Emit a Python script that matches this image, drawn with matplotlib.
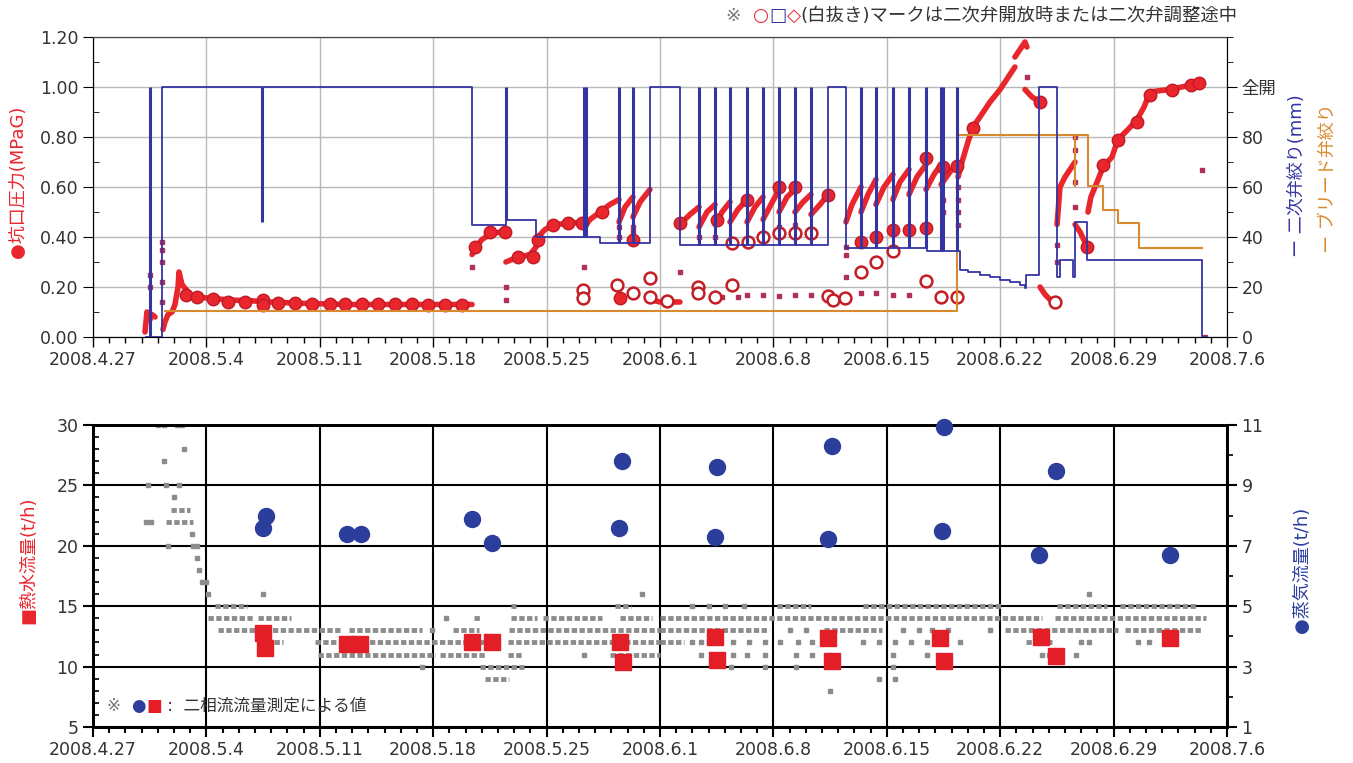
import numpy as np
import matplotlib
matplotlib.use('Agg')
import matplotlib.pyplot as plt
from matplotlib.ticker import MultipleLocator
from matplotlib.offsetbox import TextArea, HPacker, AnchoredOffsetbox

plt.rcParams['font.family'] = ['DejaVu Sans', 'Noto Sans CJK JP']

# x axis: days since 2008.4.27
DATE_LABELS = ['2008.4.27', '2008.5.4', '2008.5.11', '2008.5.18', '2008.5.25', '2008.6.1',
               '2008.6.8', '2008.6.15', '2008.6.22', '2008.6.29', '2008.7.6']

# ---- top panel: wellhead pressure (MPaG), dense trace segments (day, value)
press_segments = [
    [(3.21, 0.02), (3.33, 0.10), (3.52, 0.07), (3.64, 0.09), (3.83, 0.08)],
    [(4.32, 0.03), (4.44, 0.06), (4.63, 0.09), (4.88, 0.10), (5.06, 0.13), (5.25, 0.20), (5.31, 0.26),
     (5.49, 0.21), (5.74, 0.19), (5.99, 0.17), (6.36, 0.16), (7.22, 0.155), (8.46, 0.148), (9.69, 0.145),
     (10.93, 0.14), (12.78, 0.135), (15.86, 0.13), (18.95, 0.13), (23.40, 0.13)],
    [(23.40, 0.33), (23.64, 0.36), (24.01, 0.39), (24.51, 0.41), (25.12, 0.42), (25.49, 0.42)],
    [(25.49, 0.30), (25.86, 0.31), (26.36, 0.32), (26.98, 0.33), (27.35, 0.36), (27.47, 0.40),
     (27.90, 0.43), (28.52, 0.45), (29.44, 0.455), (30.25, 0.46)],
    [(30.31, 0.44), (30.68, 0.47), (31.30, 0.50), (31.91, 0.53), (32.47, 0.55)],
    [(32.47, 0.46), (32.84, 0.52), (33.33, 0.56)],
    [(33.33, 0.48), (33.77, 0.54), (34.38, 0.59)],
    [(34.38, 0.15), (35.00, 0.14), (35.74, 0.14), (36.23, 0.14)],
    [(36.23, 0.45), (36.85, 0.49), (37.41, 0.52)],
    [(37.41, 0.44), (37.90, 0.50), (38.40, 0.53)],
    [(38.40, 0.45), (38.83, 0.50), (39.32, 0.54)],
    [(39.32, 0.46), (39.81, 0.51), (40.37, 0.55)],
    [(40.37, 0.46), (40.86, 0.52), (41.36, 0.56)],
    [(41.36, 0.47), (41.85, 0.53), (42.35, 0.59)],
    [(42.35, 0.50), (42.84, 0.56), (43.33, 0.59)],
    [(43.33, 0.50), (43.83, 0.54), (44.32, 0.57)],
    [(44.32, 0.49), (44.88, 0.53), (45.37, 0.57)],
    [(46.48, 0.46), (46.85, 0.53), (47.41, 0.60)],
    [(47.41, 0.50), (47.84, 0.57), (48.33, 0.63)],
    [(48.33, 0.53), (48.83, 0.60), (49.38, 0.65)],
    [(49.38, 0.55), (49.81, 0.62), (50.37, 0.67)],
    [(50.37, 0.57), (50.86, 0.64), (51.42, 0.69)],
    [(51.42, 0.59), (51.91, 0.65), (52.35, 0.69)],
    [(52.35, 0.61), (52.90, 0.66), (53.33, 0.69)],
    [(53.40, 0.64), (53.64, 0.70), (54.01, 0.78), (54.32, 0.84), (54.75, 0.88), (55.37, 0.94),
     (55.99, 0.99), (56.60, 1.05), (56.91, 1.08)],
    [(56.91, 1.12), (57.22, 1.15), (57.53, 1.18), (57.65, 1.16)],
    [(57.53, 0.99), (57.96, 0.96), (58.46, 0.94)],
    [(58.46, 0.20), (58.77, 0.17), (59.07, 0.15), (59.38, 0.14)],
    [(59.51, 0.45), (59.69, 0.60), (60.00, 0.64), (60.31, 0.67), (60.62, 0.70)],
    [(60.62, 0.45), (60.93, 0.42), (61.23, 0.38), (61.42, 0.36)],
    [(61.42, 0.50), (61.60, 0.56), (61.98, 0.62), (62.35, 0.68), (62.90, 0.72), (63.27, 0.79),
     (63.89, 0.83), (64.45, 0.87), (64.88, 0.92), (65.25, 0.98), (65.80, 0.985), (66.50, 0.99),
     (67.20, 1.00), (67.90, 1.01), (68.46, 1.015)],
]

press_filled_day = [5.74, 6.42, 7.41, 8.33, 9.38, 10.49, 10.49, 11.42, 12.47, 13.52, 14.63, 15.56, 16.60,
                    17.59, 18.64, 19.69, 20.68, 21.73, 22.78, 23.58, 24.51, 25.43, 26.23, 27.16, 27.47,
                    28.40, 29.32, 30.19, 31.42, 33.33, 32.53, 36.23, 38.52, 40.37, 42.35, 43.33, 45.37,
                    47.41, 48.33, 49.38, 50.37, 51.42, 51.42, 52.47, 53.33, 54.32, 58.46, 61.36, 62.35,
                    63.27, 64.45, 65.25, 66.60, 67.80, 68.30]
press_filled_val = [0.17, 0.16, 0.152, 0.14, 0.14, 0.148, 0.13, 0.135, 0.135, 0.133, 0.133, 0.133, 0.132,
                    0.132, 0.131, 0.131, 0.13, 0.13, 0.13, 0.36, 0.42, 0.42, 0.32, 0.32, 0.39,
                    0.45, 0.455, 0.455, 0.50, 0.39, 0.156, 0.456, 0.47, 0.55, 0.60, 0.60, 0.57,
                    0.38, 0.40, 0.43, 0.43, 0.436, 0.716, 0.68, 0.684, 0.836, 0.94, 0.36, 0.69,
                    0.79, 0.86, 0.97, 0.99, 1.01, 1.015]

press_open_day = [30.25, 30.25, 32.35, 33.33, 34.38, 34.38, 35.43, 37.35, 37.35, 38.40, 39.44, 39.44,
                  40.43, 41.36, 42.35, 43.33, 44.32, 45.37, 45.68, 46.42, 47.41, 48.33, 49.38, 51.42,
                  52.35, 53.33, 59.38]
press_open_val = [0.19, 0.156, 0.21, 0.175, 0.235, 0.16, 0.144, 0.20, 0.176, 0.16, 0.21, 0.376,
                  0.38, 0.40, 0.416, 0.416, 0.416, 0.164, 0.148, 0.156, 0.26, 0.30, 0.344, 0.224,
                  0.16, 0.16, 0.14]

press_dot_day = [3.52, 3.52, 4.26, 4.26, 4.26, 4.26, 4.26, 23.40, 25.49, 25.49, 30.31, 32.47, 32.47,
                 33.33, 33.33, 36.23, 37.41, 38.40, 41.36, 42.35, 43.33, 38.83, 39.81, 40.37, 41.36,
                 42.35, 43.33, 44.32, 47.41, 48.33, 49.38, 50.37, 46.48, 46.48, 46.48, 53.40, 53.40,
                 53.40, 53.40, 52.47, 52.47, 57.65, 60.62, 60.62, 60.62, 60.62, 59.51, 59.51, 68.46, 68.64]
press_dot_val = [0.25, 0.20, 0.38, 0.35, 0.30, 0.22, 0.14, 0.28, 0.15, 0.20, 0.28, 0.40, 0.44,
                 0.44, 0.42, 0.26, 0.40, 0.40, 0.40, 0.44, 0.45, 0.16, 0.16, 0.17, 0.17,
                 0.165, 0.17, 0.17, 0.175, 0.175, 0.17, 0.17, 0.36, 0.33, 0.24, 0.60, 0.55,
                 0.50, 0.45, 0.55, 0.50, 1.04, 0.80, 0.75, 0.62, 0.52, 0.37, 0.30, 0.67, 0.0]

# secondary valve opening (mm), step levels starting at each day
valve_day = [3.3, 4.26, 23.40, 25.49, 27.35, 31.30, 34.38, 36.23, 45.37, 46.48, 51.48, 53.52, 54.01,
             54.75, 55.37, 55.99, 56.60, 57.22, 57.53, 57.59, 58.40, 59.51, 59.69, 60.49, 60.62,
             61.36, 68.46, 68.7]
valve_mm = [0, 100, 45, 47, 40, 37.6, 100, 37, 100, 35.6, 34.4, 27, 26,
            25, 24, 23, 22, 21, 19.6, 25, 100, 24, 31, 24, 46,
            31, 0, 0]
valve_open_spikes = [3.52, 25.49, 30.31, 30.45, 32.47, 33.33, 37.41, 38.40, 39.32, 40.37, 41.36,
                     42.35, 43.33, 44.32, 47.41, 48.33, 49.38, 50.37, 51.42, 52.35, 52.47, 53.33]
valve_dip_day = [10.43]
valve_dip_mm = [46]

# bleed valve opening, step levels
bleed_day = [4.44, 53.33, 61.42, 62.35, 63.27, 64.57, 68.46]
bleed_mm = [10.4, 81, 60.4, 50.8, 45.6, 35.6, 35.6]
bleed_dip_day = [60.62]
bleed_dip_mm = [60]

# ---- bottom panel
water_day = [10.5, 10.6, 15.7, 16.5, 23.4, 24.6, 32.5, 32.7, 38.4, 38.5, 45.4, 45.6, 52.3, 52.5,
             58.5, 59.45, 66.5]
water_flow = [12.77, 11.56, 11.84, 11.84, 12.01, 12.07, 12.07, 10.34, 12.43, 10.53, 12.35, 10.45,
              12.35, 10.45, 12.43, 10.9, 12.4]
steam_day = [10.66, 10.48, 15.65, 16.54, 23.4, 24.65, 32.66, 32.46, 38.5, 38.4, 45.6, 45.4, 52.5,
             52.4, 59.45, 58.4, 66.5]
steam_flow = [7.99, 7.60, 7.40, 7.40, 7.90, 7.09, 9.80, 7.60, 9.60, 7.30, 10.31, 7.21, 10.92,
              7.50, 9.49, 6.69, 6.69]

# logged hot water flow: dense runs (value, from day, to day)
log_runs = [(14, 7.1, 9.9), (14, 10.2, 12.2), (13, 7.7, 15.3), (13, 15.8, 20.3), (13, 22.2, 23.8),
            (13, 25.7, 35.0), (12, 11.2, 11.7), (12, 13.7, 25.1), (12, 25.6, 35.0), (11, 13.9, 21.1),
            (11, 21.4, 24.2), (11, 25.6, 26.5), (11, 31.9, 35.0), (10, 23.9, 26.6), (9, 24.2, 25.7),
            (15, 25.8, 26.1), (15, 32.2, 33.2), (14, 23.5, 23.9), (14, 25.8, 27.4), (14, 27.8, 31.4),
            (14, 32.5, 34.5), (15, 42.2, 44.3), (15, 47.5, 56.1), (15, 59.5, 62.6), (15, 63.4, 68.1),
            (14, 35.0, 58.6), (14, 59.4, 68.7), (13, 35.0, 41.7), (13, 45.1, 48.7), (13, 56.3, 63.3),
            (13, 63.7, 68.4), (12, 35.0, 36.5), (12, 57.6, 59.2), (23, 4.8, 6.0), (22, 4.5, 6.2),
            (15, 7.5, 9.5)]
log_pt_day = [4.0, 4.4, 5.2, 5.5, 5.6, 4.4, 3.4, 4.5, 5.3, 5.0, 3.3, 3.6, 6.1, 4.6, 6.2, 6.45, 6.45,
              6.55, 6.7, 7.0, 7.1, 10.5, 37.0, 37.5, 38.0, 38.5, 39.5, 40.5, 41.5, 42.4, 43.5, 44.4,
              47.5, 48.5, 49.5, 50.5, 51.5, 52.5, 53.5, 61.0, 61.5, 64.5, 65.2, 37.5, 38.5, 39.5,
              40.4, 41.5, 43.4, 44.4, 45.5, 49.4, 51.5, 58.6, 59.0, 60.7, 39.4, 41.5, 43.4, 49.4,
              48.5, 49.5, 45.5, 61.5, 33.9, 20.3, 20.9, 21.8, 30.3, 37.0, 38.0, 39.0, 40.2, 50.0,
              51.0, 51.8, 52.8, 55.4, 43.0, 44.0]
log_pt_val = [30, 30, 30, 30, 28, 27, 25, 25, 25, 24, 22, 22, 21, 20, 20, 20, 19,
              18, 17, 17, 16, 16, 12, 12, 12, 12, 12, 12, 12, 12, 12, 12,
              12, 12, 12, 12, 12, 12, 12, 12, 12, 12, 12, 11, 11, 11,
              11, 11, 11, 11, 11, 11, 11, 11, 11, 11, 10, 10, 10, 10,
              9, 9, 8, 16, 16, 10, 13, 14, 11, 15, 15, 15, 15, 13,
              13, 13, 13, 13, 13, 13]

RED = '#e8262c'
DOT = '#b0305a'
BLUE = '#3434a4'
ORANGE = '#d98a2e'
GREY = '#8c8c8c'
TXT = '#333333'

fig = plt.figure(figsize=(13.53, 7.63), dpi=100)
W, H = 1353.0, 763.0
ax1 = fig.add_axes([93 / W, 1 - 337 / H, 1134 / W, 300 / H])
ax1r = ax1.twinx()
ax2 = fig.add_axes([93 / W, 1 - 727 / H, 1134 / W, 302 / H])
ax2r = ax2.twinx()


def style_x(ax):
    ax.set_xlim(0, 70)
    ax.set_xticks(range(0, 71, 7))
    ax.set_xticklabels(DATE_LABELS)
    ax.xaxis.set_minor_locator(MultipleLocator(1))
    ax.tick_params(axis='x', which='major', length=7, width=1, labelsize=12.5, labelcolor=TXT, pad=3)
    ax.tick_params(axis='x', which='minor', length=4, width=1)


# ---- top panel
style_x(ax1)
ax1.set_ylim(0, 1.2)
ax1.yaxis.set_major_locator(MultipleLocator(0.2))
ax1.yaxis.set_minor_locator(MultipleLocator(0.1))
ax1.yaxis.set_major_formatter(plt.FormatStrFormatter('%.2f'))
ax1.tick_params(axis='y', which='major', length=7, labelsize=12.5, labelcolor=TXT)
ax1.tick_params(axis='y', which='minor', length=4, direction='in')
ax1.grid(True, which='major', color='#b8b8b8', lw=1)
ax1.set_axisbelow(True)
for s in ax1.spines.values():
    s.set_color('#444444')

for seg in press_segments:
    xs, ys = zip(*seg)
    ax1.plot(xs, ys, color=RED, lw=4, solid_capstyle='round', zorder=3)
ax1.plot(press_dot_day, press_dot_val, 's', ms=3, color=DOT, zorder=3)
ax1.plot(press_filled_day, press_filled_val, 'o', ms=9, color=RED, mec='#c01a28', mew=1, zorder=4)
ax1.plot(press_open_day, press_open_val, 'o', ms=8.5, mfc='white', mec='#c41e24', mew=1.8, zorder=4)

ax1r.set_ylim(0, 120)
ax1r.set_yticks([0, 20, 40, 60, 80, 100])
ax1r.set_yticklabels(['0', '20', '40', '60', '80', '全開'])
ax1r.yaxis.set_minor_locator(MultipleLocator(10))
ax1r.tick_params(axis='y', which='major', length=7, labelsize=12.5, labelcolor=TXT)
ax1r.tick_params(axis='y', which='minor', length=4)
ax1r.spines['right'].set_color('black')
ax1r.spines['top'].set_color('#444444')

ax1r.step(bleed_day, bleed_mm, where='post', color=ORANGE, lw=1.5, zorder=2)
for d, m in zip(bleed_dip_day, bleed_dip_mm):
    ax1r.vlines(d, m, 81, color=ORANGE, lw=1.5)
ax1r.step(valve_day, valve_mm, where='post', color=BLUE, lw=1.3, zorder=3)
for d in valve_open_spikes:
    base = valve_mm[np.searchsorted(valve_day, d, side='right') - 1]
    ax1r.vlines(d, base, 100, color=BLUE, lw=2.2)
for d, m in zip(valve_dip_day, valve_dip_mm):
    ax1r.vlines(d, m, 100, color=BLUE, lw=2.2)

# ---- bottom panel
style_x(ax2)
ax2.set_ylim(5, 30)
ax2.yaxis.set_major_locator(MultipleLocator(5))
ax2.yaxis.set_minor_locator(MultipleLocator(1))
ax2.tick_params(axis='y', which='major', length=7, width=1.5, labelsize=12.5, labelcolor=TXT)
ax2.tick_params(axis='y', which='minor', length=4, direction='in', width=1.2)
ax2.tick_params(axis='x', which='both', width=1.5)
ax2.grid(True, which='major', color='black', lw=1.5)
ax2.set_axisbelow(True)
for s in ax2.spines.values():
    s.set_linewidth(2)

for v, d0, d1 in log_runs:
    ax2.hlines(v, d0, d1, colors=GREY, lw=3.5, linestyles=(0, (1.1, 0.5)), zorder=2)
ax2.plot(log_pt_day, log_pt_val, 's', ms=3.5, color=GREY, zorder=2)
ax2.plot(water_day, water_flow, 's', ms=11.5, color='#e41e26', zorder=4)

ax2r.set_ylim(1, 11)
ax2r.set_yticks([1, 3, 5, 7, 9, 11])
ax2r.yaxis.set_minor_locator(MultipleLocator(1))
ax2r.tick_params(axis='y', which='major', length=7, width=1.5, labelsize=12.5, labelcolor=TXT)
ax2r.tick_params(axis='y', which='minor', length=4, width=1.2)
for s in ax2r.spines.values():
    s.set_linewidth(2)
ax2r.plot(steam_day, steam_flow, 'o', ms=11.5, color='#2c3e9c', clip_on=False, zorder=4)

# ---- labels
fig.text(18 / W, 1 - 182 / H, '●坑口圧力(MPaG)', color=RED, rotation=90, size=13,
         ha='center', va='center')
fig.text(1297 / W, 1 - 176 / H, 'ー 二次弁絞り(mm)', color=BLUE, rotation=90, size=13,
         ha='center', va='center')
fig.text(1328 / W, 1 - 178 / H, 'ー ブリード弁絞り', color=ORANGE, rotation=90, size=13,
         ha='center', va='center')
fig.text(28 / W, 1 - 560 / H, '■熱水流量(t/h)', color=RED, rotation=90, size=13,
         ha='center', va='center')
fig.text(1302 / W, 1 - 570 / H, '●蒸気流量(t/h)', color='#2c3e9c', rotation=90, size=13,
         ha='center', va='center')


def rich_text(parts, x, y, size):
    areas = [TextArea(t, textprops=dict(color=c, size=size)) for t, c in parts]
    box = HPacker(children=areas, align='baseline', pad=0, sep=0)
    anch = AnchoredOffsetbox(loc='center left', child=box, pad=0, borderpad=0, frameon=False,
                             bbox_to_anchor=(x, y), bbox_transform=fig.transFigure)
    fig.add_artist(anch)


rich_text([('※  ', '#777777'), ('○', RED), ('□', BLUE), ('◇', RED),
           ('(白抜き)マークは二次弁開放時または二次弁調整途中', TXT)], 726 / W, 1 - 16 / H, 13.2)
rich_text([('※  ', '#777777'), ('●', '#2c3e9c'), ('■', '#e41e26'),
           (' :  二相流流量測定による値', TXT)], 107 / W, 1 - 706 / H, 12)

fig.savefig('out.png', dpi=100)
